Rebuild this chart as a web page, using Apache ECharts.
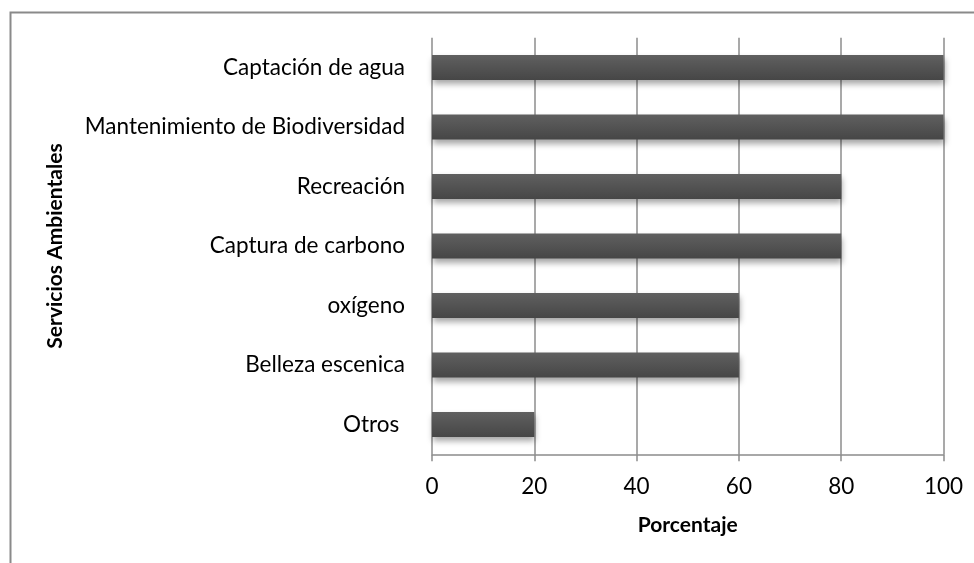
<!DOCTYPE html>
<html>
<head>
<meta charset="utf-8">
<script src="https://cdn.jsdelivr.net/npm/echarts@6/dist/echarts.min.js"></script>
<style>
html, body { margin: 0; padding: 0; background: #fff; }
#chart { width: 974px; height: 563px; }
</style>
</head>
<body>
<div id="chart"></div>
<script>
const categories = ['Captación de agua', 'Mantenimiento de Biodiversidad', 'Recreación', 'Captura de carbono', 'oxígeno', 'Belleza escenica', 'Otros ']
const values = [100, 100, 80, 80, 60, 60, 20]
const xTicks = [0, 20, 40, 60, 80, 100]

const font = 'Lato, "Open Sans", sans-serif'
const gridColor = '#8c8c8c'

const chart = echarts.init(document.getElementById('chart'))
const option = {
    animation: false,
    graphic: [
        {
            type: 'rect',
            left: 8, top: 10,
            shape: { width: 1000, height: 600 },
            style: { fill: 'none', stroke: '#8a8a8a', lineWidth: 2 },
            z: 100
        }
    ],
    grid: { left: 432, right: 30.5, top: 37.75, bottom: 108.75 },
    xAxis: {
        type: 'value',
        min: 0, max: 100, interval: 20,
        name: 'Porcentaje',
        nameLocation: 'middle',
        nameGap: 60,
        nameTextStyle: { fontFamily: font, fontSize: 21, fontWeight: 'bold', color: '#000' },
        axisLine: { show: true, lineStyle: { color: gridColor, width: 1.5 } },
        axisTick: { show: true, length: 7, lineStyle: { color: gridColor, width: 1.5 } },
        axisLabel: { fontFamily: font, fontSize: 22.5, color: '#000', margin: 21,
            formatter: v => xTicks.includes(v) ? String(v) : '' },
        splitLine: { show: true, lineStyle: { color: gridColor, width: 1.5 } }
    },
    yAxis: {
        type: 'category',
        data: categories,
        inverse: true,
        name: 'Servicios Ambientales',
        nameLocation: 'middle',
        nameGap: 366,
        nameRotate: 90,
        nameTextStyle: { fontFamily: font, fontSize: 21, fontWeight: 'bold', color: '#000' },
        axisLine: { show: false },
        axisTick: { show: false },
        axisLabel: { fontFamily: font, fontSize: 22.5, color: '#000', margin: 27 }
    },
    series: [
        {
            type: 'bar',
            data: values,
            barWidth: 25,
            itemStyle: {
                color: new echarts.graphic.LinearGradient(0, 0, 0, 1, [
                    { offset: 0, color: '#606060' },
                    { offset: 1, color: '#464646' }
                ]),
                shadowColor: 'rgba(0,0,0,0.35)',
                shadowBlur: 6,
                shadowOffsetY: 4,
                shadowOffsetX: 1
            }
        }
    ]
}
option && chart.setOption(option)
</script>
</body>
</html>
